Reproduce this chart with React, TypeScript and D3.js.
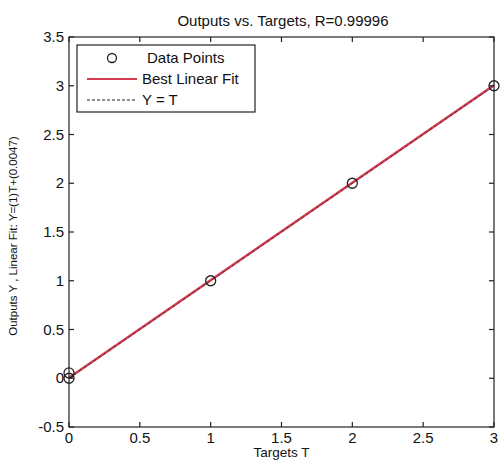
import { useEffect, useRef } from 'react'
import * as d3 from 'd3'

const targets = [0, 0, 1, 2, 3]
const outputs = [0.055, 0, 1, 2, 3]
const fitSlope = 1
const fitIntercept = 0.0047
const xTicks = [0, 0.5, 1, 1.5, 2, 2.5, 3]
const yTicks = [-0.5, 0, 0.5, 1, 1.5, 2, 2.5, 3, 3.5]
const legendItems = ['Data Points', 'Best Linear Fit', 'Y = T']

export default function App() {
  const svgRef = useRef<SVGSVGElement>(null)

  useEffect(() => {
    const width = 502
    const height = 465
    const margin = { top: 37, right: 8, bottom: 38, left: 69 }
    const font = 'Liberation Sans, Arial, sans-serif'

    const svg = d3.select(svgRef.current)
      .attr('width', width)
      .attr('height', height)
    svg.selectAll('*').remove()

    svg.append('rect').attr('width', width).attr('height', height).attr('fill', '#fff')

    const x = d3.scaleLinear().domain([0, 3]).range([margin.left, width - margin.right])
    const y = d3.scaleLinear().domain([-0.5, 3.5]).range([height - margin.bottom, margin.top])

    const g = svg.append('g')
    const tickLen = 5

    // red fit line, with the dashed Y = T line drawn over it
    const line = d3.line<number>().x(d => x(d)).y(d => y(d))
    const fitLine = d3.line<number>().x(d => x(d)).y(d => y(fitSlope * d + fitIntercept))
    g.append('path')
      .datum([0, 3])
      .attr('d', fitLine)
      .attr('fill', 'none')
      .attr('stroke', '#d43a52')
      .attr('stroke-width', 2.6)

    g.append('path')
      .datum([0, 3])
      .attr('d', line)
      .attr('fill', 'none')
      .attr('stroke', '#333')
      .attr('stroke-width', 1)
      .attr('stroke-dasharray', '3,3')
      .attr('opacity', 0.8)

    // data points
    g.selectAll('circle.pt')
      .data(targets.map((t, i) => [t, outputs[i]]))
      .join('circle')
      .attr('class', 'pt')
      .attr('cx', d => x(d[0]))
      .attr('cy', d => y(d[1]))
      .attr('r', 5)
      .attr('fill', 'none')
      .attr('stroke', '#222')
      .attr('stroke-width', 1.3)

    // frame
    g.append('rect')
      .attr('x', x(0)).attr('y', y(3.5))
      .attr('width', x(3) - x(0)).attr('height', y(-0.5) - y(3.5))
      .attr('fill', 'none').attr('stroke', '#222').attr('stroke-width', 1.2)

    // ticks on all four sides
    const tk = g.append('g').attr('stroke', '#222').attr('stroke-width', 1.2)
    xTicks.forEach(t => {
      tk.append('line').attr('x1', x(t)).attr('x2', x(t)).attr('y1', y(-0.5)).attr('y2', y(-0.5) - tickLen)
      tk.append('line').attr('x1', x(t)).attr('x2', x(t)).attr('y1', y(3.5)).attr('y2', y(3.5) + tickLen)
    })
    yTicks.forEach(t => {
      tk.append('line').attr('x1', x(0)).attr('x2', x(0) + tickLen).attr('y1', y(t)).attr('y2', y(t))
      tk.append('line').attr('x1', x(3)).attr('x2', x(3) - tickLen).attr('y1', y(t)).attr('y2', y(t))
    })

    // tick labels
    g.selectAll('text.xt')
      .data(xTicks)
      .join('text')
      .attr('class', 'xt')
      .attr('x', d => x(d))
      .attr('y', y(-0.5) + 16)
      .attr('text-anchor', 'middle')
      .attr('font-family', font)
      .attr('font-size', 15)
      .attr('fill', '#111')
      .text(d => String(d))

    g.selectAll('text.yt')
      .data(yTicks)
      .join('text')
      .attr('class', 'yt')
      .attr('x', x(0) - 5)
      .attr('y', d => y(d) + 5)
      .attr('text-anchor', 'end')
      .attr('font-family', font)
      .attr('font-size', 15)
      .attr('fill', '#111')
      .text(d => String(d))

    // title and axis labels
    svg.append('text')
      .attr('x', 283).attr('y', 26)
      .attr('text-anchor', 'middle')
      .attr('font-family', font).attr('font-size', 15).attr('fill', '#111')
      .text('Outputs vs. Targets, R=0.99996')

    svg.append('text')
      .attr('x', x(1.5)).attr('y', 457)
      .attr('text-anchor', 'middle')
      .attr('font-family', font).attr('font-size', 13.5).attr('fill', '#111')
      .text('Targets T')

    svg.append('text')
      .attr('transform', `translate(17,236) rotate(-90)`)
      .attr('text-anchor', 'middle')
      .attr('font-family', font).attr('font-size', 11.5).attr('fill', '#111')
      .text('Outputs Y ,  Linear Fit: Y=(1)T+(0.0047)')

    // legend
    const lg = svg.append('g')
    lg.append('rect')
      .attr('x', 77).attr('y', 45).attr('width', 178).attr('height', 67)
      .attr('fill', '#fff').attr('stroke', '#222').attr('stroke-width', 1.2)
    const rowY = [58, 79, 100]
    lg.append('circle').attr('cx', 112).attr('cy', rowY[0]).attr('r', 4.5)
      .attr('fill', 'none').attr('stroke', '#222').attr('stroke-width', 1.3)
    lg.append('line').attr('x1', 87).attr('x2', 137).attr('y1', rowY[1]).attr('y2', rowY[1])
      .attr('stroke', '#d43a52').attr('stroke-width', 2)
    lg.append('line').attr('x1', 87).attr('x2', 137).attr('y1', rowY[2]).attr('y2', rowY[2])
      .attr('stroke', '#222').attr('stroke-width', 1).attr('stroke-dasharray', '3,2')
    lg.selectAll('text.lt')
      .data(legendItems)
      .join('text')
      .attr('class', 'lt')
      .attr('x', (d, i) => (i === 0 ? 147 : 142))
      .attr('y', (d, i) => rowY[i] + 5)
      .attr('font-family', font).attr('font-size', 15).attr('fill', '#111')
      .text(d => d)
  }, [])

  return (
    <div style={{ position: 'absolute', left: 0, top: 0 }}>
      <svg ref={svgRef}></svg>
    </div>
  )
}
